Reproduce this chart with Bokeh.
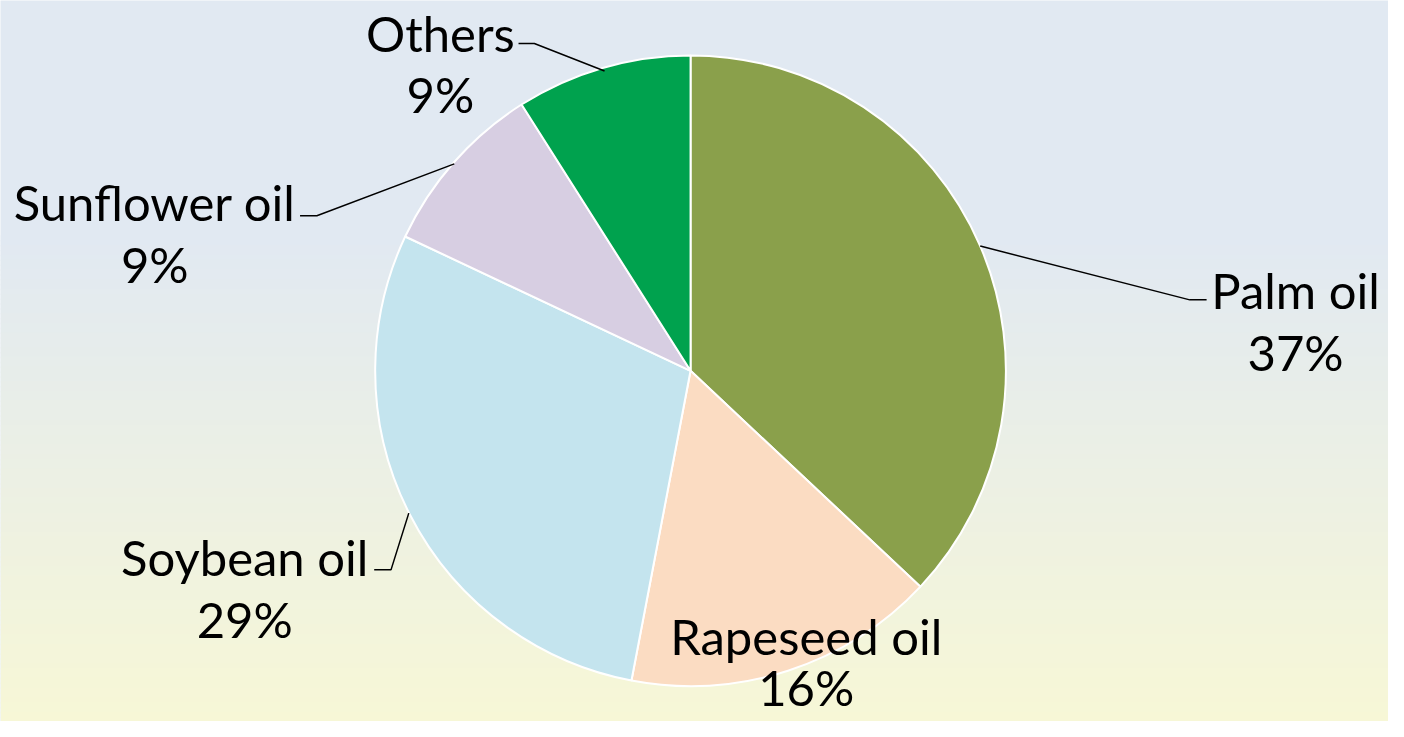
from bokeh.plotting import figure
from bokeh.models import Range1d, ColumnDataSource
from bokeh.core.properties import value
from bokeh.embed import file_html
from bokeh.resources import INLINE
import math

# ---- data ----
categories = ["Palm oil", "Rapeseed oil", "Soybean oil", "Sunflower oil", "Others"]
shares = [37, 16, 29, 9, 9]
colors = ["#8aa04b", "#fbdcc2", "#c4e4ee", "#d7cee2", "#00a24e"]

# ---- layout (reference pixel coordinates, y measured downward) ----
W, H = 1404, 737
CX, CY, R = 698, 378.5, 319
label_pos = {
    "Palm oil": (1310, 296),
    "Rapeseed oil": (815, 650),
    "Soybean oil": (247, 569),
    "Sunflower oil": (156, 206),
    "Others": (445, 33),
}
LINE_GAP = 63
leaders = {
    "Palm oil": [(991, 251), (1203, 306), (1220, 306)],
    "Soybean oil": [(413, 524), (395, 582), (378, 582)],
    "Sunflower oil": [(459, 167), (320, 220), (303, 220)],
    "Others": [(611, 72), (540, 44), (524, 44)],
}

def fy(y):
    return H - y

p = figure(width=1388, height=721, output_backend="svg", toolbar_location=None,
           x_range=Range1d(0, W), y_range=Range1d(0, H),
           min_border=0, outline_line_color=None)
p.axis.visible = False
p.grid.visible = False
p.background_fill_color = "#e1e9f2"
p.border_fill_color = "#e1e9f2"

# background gradient bands
top = (0xe1, 0xe9, 0xf2)
bot = (0xf7, 0xf7, 0xd6)
y0g = 240
nb = 100
bt, bb, bc = [], [], []
for i in range(nb):
    ya = y0g + (H - y0g) * i / nb
    yb = y0g + (H - y0g) * (i + 1) / nb
    t = (i + 0.5) / nb
    c = tuple(int(round(top[k] + (bot[k] - top[k]) * t)) for k in range(3))
    bt.append(fy(ya))
    bb.append(fy(yb) - 1.5)
    bc.append("#%02x%02x%02x" % c)
p.quad(left=0, right=W, top=bt, bottom=bb, fill_color=bc, line_color=None)

# pie wedges (clockwise from 12 o'clock)
total = sum(shares)
starts, ends = [], []
cum = 0
for s in shares:
    starts.append(math.pi / 2 - 2 * math.pi * cum / total)
    cum += s
    ends.append(math.pi / 2 - 2 * math.pi * cum / total)
src = ColumnDataSource(dict(start=starts, end=ends, color=colors, cat=categories))
p.wedge(x=CX, y=fy(CY), radius=R, start_angle="start", end_angle="end",
        direction="clock", fill_color="color", line_color="white", line_width=2,
        source=src)

# leader lines
xs, ys = [], []
for cat, pts in leaders.items():
    xs.append([q[0] for q in pts])
    ys.append([fy(q[1]) for q in pts])
p.multi_line(xs=xs, ys=ys, line_color="black", line_width=1.5)

# labels
tx, ty, tt = [], [], []
for cat, s in zip(categories, shares):
    lx, ly = label_pos[cat]
    tx.append(lx); ty.append(fy(ly)); tt.append(cat)
    yy = ly + LINE_GAP
    if cat == "Rapeseed oil":
        yy -= 11
    tx.append(lx); ty.append(fy(yy)); tt.append("%d%%" % s)
p.text(x=tx, y=ty, text=tt, text_align="center", text_baseline="middle",
       text_font=value("Lato"), text_font_size="49px", text_color="black")

open("out.html", "w").write(file_html(p, INLINE))
